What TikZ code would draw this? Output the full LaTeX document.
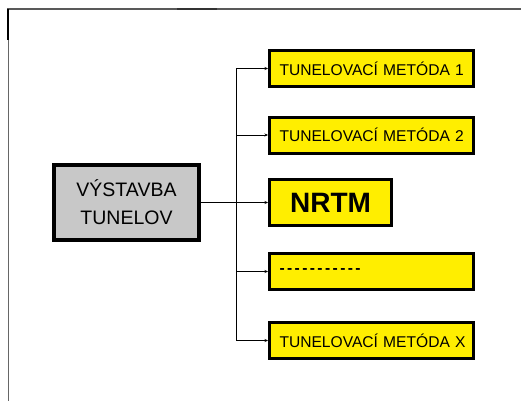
\documentclass[tikz,border=0pt]{standalone}
\usepackage{fontspec}
\setmainfont{Liberation Sans}
\usetikzlibrary{arrows.meta}
\definecolor{zlta}{RGB}{255,238,0}
\definecolor{seda}{RGB}{200,200,200}
\newcommand{\ciarky}{-\kern2.4pt-\kern2.4pt-\kern2.4pt-\kern2.4pt-\kern2.4pt-\kern2.4pt-\kern2.4pt-\kern2.4pt-\kern2.4pt-\kern2.4pt-}
\tikzset{
  metoda/.style={draw=black, fill=zlta, line width=3pt, anchor=west, minimum height=36pt,
    inner xsep=10pt, text width=184pt, align=left, font=\fontsize{15.6}{18}\selectfont},
  hlavny/.style={draw=black, fill=seda, line width=4pt, minimum width=145pt, minimum height=75pt,
    align=center, font=\fontsize{19.5}{28}\selectfont},
  spoj/.style={line width=1pt, -{Stealth[length=3.5pt,width=3pt]}}
}
\begin{document}
\begin{tikzpicture}[x=1pt, y=-1pt]
			\useasboundingbox (0,0) rectangle (521,401);
			% ramik
			\draw[line width=1.5pt, black!65] (7,9) -- (521,9);
			\draw[line width=1pt, black!60] (8,9) -- (8,401);
			\draw[line width=2.5pt] (8,9) -- (8,40);
			\draw[line width=2pt, black!80] (177,9) -- (217,9);
			% bloky
			\node[hlavny] (V) at (126.5,202.5) {VÝSTAVBA\\TUNELOV};
			\node[metoda] (M1) at (268,68.5) {\mbox{TUNELOVACÍ METÓDA 1}};
			\node[metoda] (M2) at (268,135) {\mbox{TUNELOVACÍ METÓDA 2}};
			\node[metoda, text width=100pt, minimum width=122pt, minimum height=46pt, align=center, inner xsep=0pt,
			  font=\fontsize{28}{30}\selectfont\bfseries] (N) at (268,202.5) {NRTM};
			\node[metoda] (M4) at (268,271.5) {\raisebox{-4pt}{\bfseries\ciarky}};
			\node[metoda] (MX) at (268,340.5) {\mbox{TUNELOVACÍ METÓDA X}};
			% spojnice
			\coordinate (K) at (236,0);
			\draw[line width=1pt] (M1.west -| K) -- (MX.west -| K);
			\draw[spoj] (V.east) -- (N.west);
			\foreach \m in {M1,M2,M4,MX}
				\draw[spoj] (\m.west -| K) -- (\m.west);
		\end{tikzpicture}
\end{document}
